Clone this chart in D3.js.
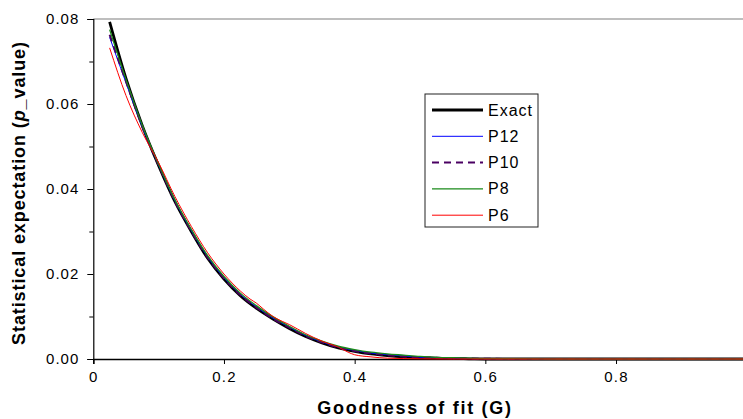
<!DOCTYPE html>
<html><head><meta charset="utf-8">
<script src="https://cdn.jsdelivr.net/npm/d3@7"></script>
<style>
html,body{margin:0;padding:0;background:#fff;}
svg{display:block;font-family:"Liberation Sans",Arial,sans-serif;}
</style></head>
<body><svg id="c" width="743" height="419"></svg>
<script>
// ---- data ----
const gGrid = [0.025,0.05,0.075,0.1,0.125,0.15,0.175,0.2,0.225,0.25,0.275,0.3,0.325,0.35,0.375,0.4,0.425,0.45,0.475,0.5,0.525,0.55,0.575,0.6,0.7,0.8,0.9,1.0];
const exactVals = [0.0793,0.0660,0.0549,0.0455,0.0370,0.0300,0.0237,0.0188,0.0149,0.0119,0.0094,0.0072,0.0053,0.0038,0.0026,0.0018,0.0012,0.0008,0.0005,0.0003,0.0002,0.0001,0.00005,0,0,0,0,0];
const p12Vals = [0.0757,0.0650,0.0546,0.0456,0.0372,0.0302,0.0240,0.0191,0.0152,0.0122,0.0096,0.0075,0.0055,0.0040,0.0028,0.0020,0.0014,0.0010,0.0007,0.0004,0.0003,0.0002,0.0001,0.00005,0,0,0,0];
const p10Vals = [0.0763,0.0653,0.0547,0.0456,0.0371,0.0301,0.0239,0.0190,0.0151,0.0121,0.0095,0.0074,0.0054,0.0039,0.0027,0.0019,0.0013,0.0009,0.0006,0.0004,0.0003,0.0002,0.0001,0.00005,0,0,0,0];
const p8Vals = [0.0775,0.0658,0.0550,0.0458,0.0374,0.0305,0.0243,0.0194,0.0155,0.0125,0.0099,0.0077,0.0057,0.0042,0.0030,0.0022,0.0016,0.0012,0.0009,0.0006,0.0004,0.0003,0.0002,0.0001,0,0,0,0];
const gP6 = [0.025,0.05,0.075,0.1,0.125,0.15,0.175,0.2,0.225,0.24,0.25,0.26,0.275,0.29,0.3,0.325,0.35,0.375,0.39,0.4,0.425,0.45,0.5,0.55,0.7,0.8,0.9,1.0];
const p6Vals = [0.0732,0.0620,0.0533,0.0462,0.0382,0.0312,0.0250,0.0200,0.0160,0.0141,0.0131,0.0118,0.0100,0.0088,0.0081,0.0060,0.0042,0.0028,0.0016,0.0010,0.0005,0.0002,0.00005,0,0,0,0,0];
const seriesNames = ["Exact","P12","P10","P8","P6"];
const xTicks = [0,0.2,0.4,0.6,0.8];
const yTicks = [0,0.02,0.04,0.06,0.08];
const yMinorTicks = [0.01,0.03,0.05,0.07];
const xTitle = "Goodness of fit (G)";

// ---- layout ----
const svg = d3.select("#c");
const x = d3.scaleLinear().domain([0,1]).range([93.3,746.7]);
const y = d3.scaleLinear().domain([0,0.08]).range([359,19]);

const styles = {
  "Exact":{color:"#000000",w:2.8,dash:null},
  "P12":{color:"#0000ff",w:1,dash:null},
  "P10":{color:"#4a0062",w:2,dash:"7,5"},
  "P8":{color:"#1a8a1a",w:1.3,dash:null},
  "P6":{color:"#ff0000",w:1,dash:null}
};
const series = [
  {name:"Exact", g:gGrid, v:exactVals},
  {name:"P12", g:gGrid, v:p12Vals},
  {name:"P10", g:gGrid, v:p10Vals},
  {name:"P8", g:gGrid, v:p8Vals},
  {name:"P6", g:gP6, v:p6Vals}
];

// top grid line at 0.08
svg.append("line").attr("x1",x(0)).attr("x2",743).attr("y1",y(0.08)).attr("y2",y(0.08))
  .attr("stroke","#a8a8a8").attr("stroke-width",1.5);

// y axis
const yAxis = d3.axisLeft(y).tickValues(yTicks).tickFormat(d3.format(".2f")).tickSize(6).tickPadding(8);
const gy = svg.append("g").attr("transform",`translate(${x(0)},0)`).call(yAxis);
gy.select(".domain").attr("stroke","#000").attr("stroke-width",1.2);
gy.selectAll(".tick line").attr("stroke","#000");
gy.selectAll("text").attr("font-size",15).attr("letter-spacing","1px").attr("fill","#000")
  .attr("font-family","'Liberation Sans',Arial,sans-serif");
svg.append("g").attr("transform",`translate(${x(0)},0)`)
  .call(d3.axisLeft(y).tickValues(yMinorTicks).tickSize(4).tickFormat(""))
  .call(g=>g.select(".domain").remove());

// x axis
const xAxis = d3.axisBottom(x).tickValues(xTicks).tickFormat(d=>d===0?"0":d3.format(".1f")(d)).tickSize(5).tickPadding(7);
const gx = svg.append("g").attr("transform",`translate(0,${y(0)})`).call(xAxis);
gx.select(".domain").attr("stroke","#000").attr("stroke-width",1.5);
gx.selectAll("text").attr("font-size",15).attr("letter-spacing","1.2px").attr("fill","#000")
  .attr("font-family","'Liberation Sans',Arial,sans-serif");

// lines
const line = d3.line().x(d=>x(d[0])).y(d=>y(d[1])).curve(d3.curveMonotoneX);
const clip = svg.append("clipPath").attr("id","pc").append("rect")
  .attr("x",x(0)).attr("y",0).attr("width",743-x(0)).attr("height",y(0)+2);
series.forEach(s=>{
  const st = styles[s.name];
  svg.append("path").attr("clip-path","url(#pc)")
    .datum(s.g.map((g,i)=>[g,s.v[i]]))
    .attr("d",line).attr("fill","none")
    .attr("stroke",st.color).attr("stroke-width",st.w)
    .attr("stroke-dasharray",st.dash);
});

// legend
const lg = svg.append("g").attr("transform","translate(425,94)");
lg.append("rect").attr("x",0).attr("y",0).attr("width",113).attr("height",133)
  .attr("fill","#fff").attr("stroke","#222").attr("stroke-width",1);
seriesNames.forEach((n,i)=>{
  const st = styles[n];
  const yy = 16 + i*26.3;
  lg.append("line").attr("x1",7).attr("x2",58).attr("y1",yy).attr("y2",yy)
    .attr("stroke",st.color).attr("stroke-width",st.w).attr("stroke-dasharray",st.dash);
  lg.append("text").attr("x",63).attr("y",yy+5.5).text(n)
    .attr("font-size",16).attr("letter-spacing","1px").attr("fill","#000");
});

// axis titles
svg.append("text").attr("x",415).attr("y",414).attr("text-anchor","middle")
  .attr("font-size",18).attr("font-weight","bold").attr("letter-spacing","1.7px")
  .text(xTitle);
const yt = svg.append("text").attr("transform","translate(25,193) rotate(-90)")
  .attr("text-anchor","middle").attr("font-size",18).attr("font-weight","bold")
  .attr("letter-spacing","0.9px");
yt.append("tspan").text("Statistical expectation (");
yt.append("tspan").attr("font-style","italic").text("p");
yt.append("tspan").text("_value)");
</script></body></html>
